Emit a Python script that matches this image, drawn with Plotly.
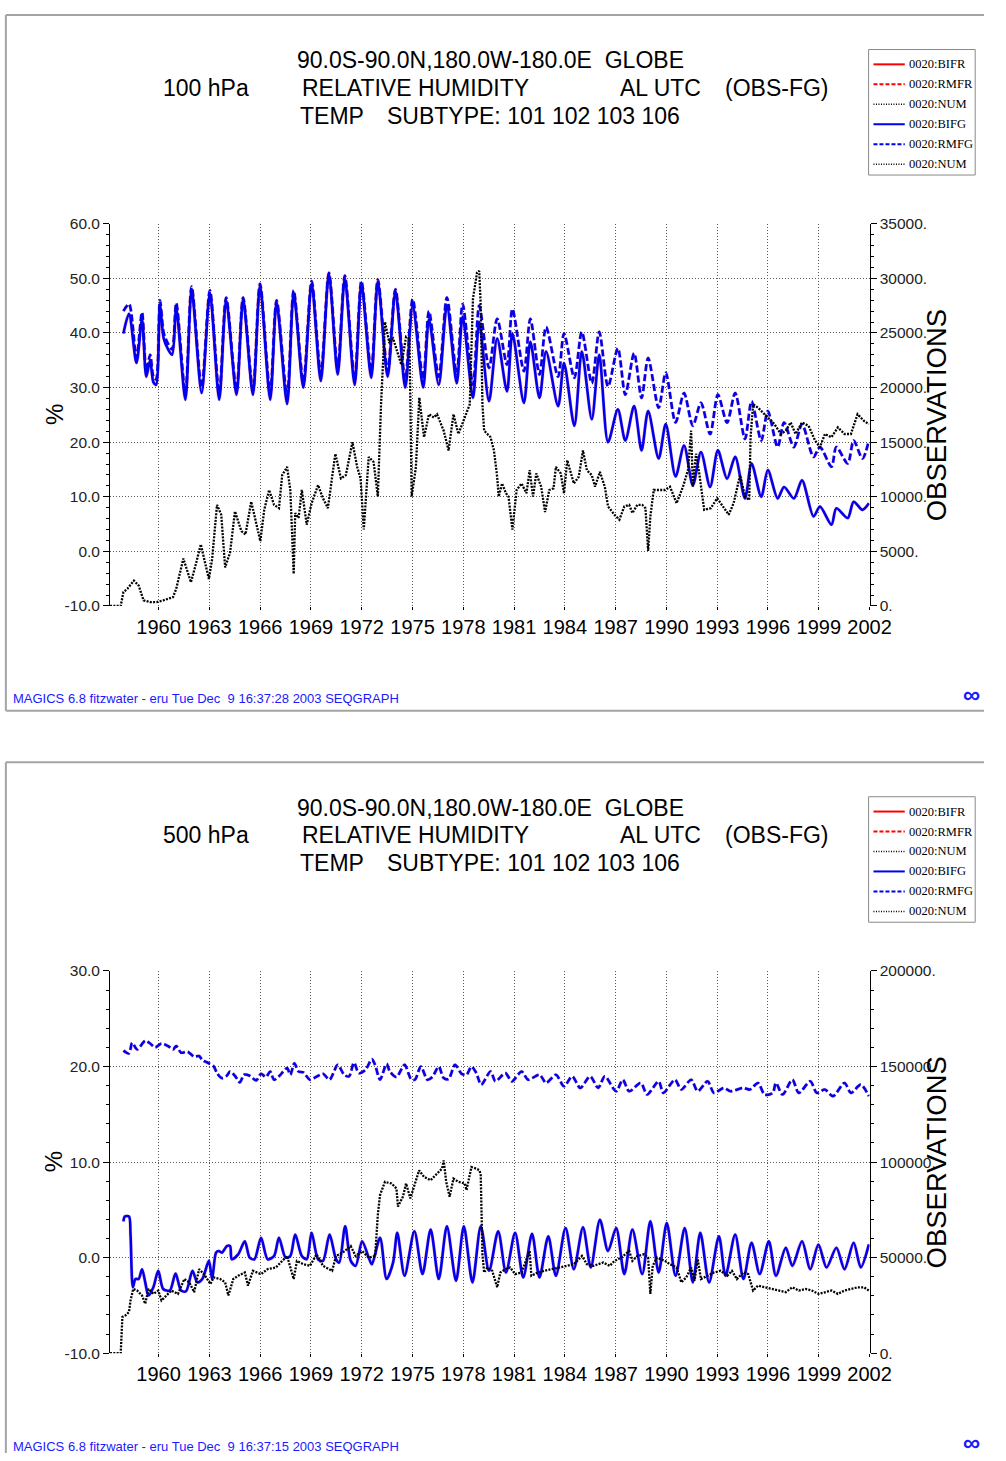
import plotly.graph_objects as go

# ---------------- DATA ----------------
X_TICKS = [1960, 1963, 1966, 1969, 1972, 1975, 1978, 1981, 1984, 1987, 1990, 1993, 1996, 1999, 2002]
X_TICK_LABELS = [str(v) for v in X_TICKS]

TOP_LEFT_TICKS = [-10, 0, 10, 20, 30, 40, 50, 60]
TOP_LEFT_LABELS = ["-10.0", "0.0", "10.0", "20.0", "30.0", "40.0", "50.0", "60.0"]
TOP_RIGHT_TICKS = [0, 5000, 10000, 15000, 20000, 25000, 30000, 35000]
TOP_RIGHT_LABELS = ["0.", "5000.", "10000.", "15000.", "20000.", "25000.", "30000.", "35000."]

BOT_LEFT_TICKS = [-10, 0, 10, 20, 30]
BOT_LEFT_LABELS = ["-10.0", "0.0", "10.0", "20.0", "30.0"]
BOT_RIGHT_TICKS = [0, 50000, 100000, 150000, 200000]
BOT_RIGHT_LABELS = ["0.", "50000.", "100000.", "150000.", "200000."]

# ---- 100 hPa panel ----
T_FG_YEAR = [1957.92, 1958.25, 1958.69, 1959.02, 1959.27, 1959.5, 1959.69, 1959.85, 1960.08, 1960.3, 1960.56, 1960.8,
             1961.04, 1961.58, 1961.95, 1962.54, 1963.03, 1963.58, 1963.99, 1964.6, 1964.99, 1965.57, 1965.99, 1966.59,
             1966.97, 1967.59, 1967.98, 1968.55, 1969.04, 1969.58, 1970.06, 1970.58, 1971.0, 1971.58, 1971.98, 1972.56,
             1972.95, 1973.53, 1973.99, 1974.57, 1975.01, 1975.63, 1975.97, 1976.55, 1977.03, 1977.61, 1977.96, 1978.57,
             1978.94, 1979.52, 1980.0, 1980.58, 1980.9, 1981.58, 1981.96, 1982.5, 1982.89, 1983.6, 1983.95, 1984.56,
             1985.0, 1985.59, 1986.03, 1986.55, 1987.13, 1987.57, 1988.09, 1988.53, 1988.92, 1989.54, 1989.96, 1990.54,
             1991.04, 1991.56, 1992.04, 1992.58, 1993.04, 1993.58, 1994.06, 1994.64, 1995.03, 1995.6, 1995.99, 1996.57,
             1996.95, 1997.53, 1998.01, 1998.69, 1999.07, 1999.75, 2000.04, 2000.71, 2001.06, 2001.58, 2001.96]
T_BIFG = [39.9, 43.5, 34.5, 42.5, 32, 35, 31, 30.5, 45, 39, 37, 36,
          44.5, 27.8, 48, 29, 47.3, 27.8, 46, 28.7, 46.2, 28.7,
          48.7, 27.8, 45.6, 27, 47.3, 30, 49, 31.2, 50.8, 32.4,
          50, 30.5, 49, 31.8, 49.4, 32, 47.7, 30, 45, 30,
          42.5, 30.5, 45, 30.8, 43, 28.1, 42, 27.5, 39, 29.3,
          39.9, 27.2, 38.4, 28.1, 36.6, 26.6, 34.5, 23, 36.6, 24.2,
          36, 20, 26, 20.3, 26.6, 18.5, 25.7, 17, 23.3, 13.7,
          19.4, 12.1, 18.2, 11.8, 18.5, 13.3, 17.3, 9.7, 16.1, 10,
          14.9, 9.7, 11.8, 9.7, 13, 6.4, 8.2, 4.9, 7.9, 6.1,
          9.1, 7.6, 8.8]
T_RMFG = [44, 45.3, 35.5, 43.8, 33, 36, 32, 31.5, 46, 40, 38, 37,
          45.5, 29, 48.5, 30, 47.8, 29, 46.5, 29.5, 46.5, 29.5,
          49, 29, 46, 28.5, 47.8, 31, 49.5, 32.5, 51, 33.5,
          50.5, 31.5, 49.5, 33, 49.8, 33, 48, 31.5, 46.2, 31.5,
          44, 32, 46.5, 32.5, 45.3, 30.5, 45, 33.6, 42.6, 34.2,
          44.4, 33, 42.6, 32.4, 41.1, 32, 39.9, 31.8, 40.2, 30.8,
          40.2, 30.2, 37.2, 28.7, 36.3, 28.1, 35.4, 26.3, 32.7, 23.6,
          29, 23, 27.2, 21.5, 28.7, 23.6, 29, 20.6, 27.5, 20.3,
          25.7, 19.1, 23.6, 19.1, 23.3, 17.3, 19.1, 15.5, 19.1, 16.1,
          20.3, 17, 20.3]
# FR curves coincide with the FG curves in the picture
T_BIFR = list(T_BIFG)
T_RMFR = list(T_RMFG)

T_NUM_YEAR = [1957.13, 1957.76, 1957.92, 1958.15, 1958.54, 1958.82, 1959.11, 1959.5, 1959.88, 1960.27, 1960.85, 1961.04,
              1961.46, 1961.91, 1962.2, 1962.49, 1962.97, 1963.16, 1963.45, 1963.7, 1963.93, 1964.22, 1964.51, 1964.89,
              1965.13, 1965.47, 1966.01, 1966.24, 1966.53, 1966.82, 1967.11, 1967.3, 1967.59, 1967.78, 1967.98, 1968.07,
              1968.27, 1968.46, 1968.75, 1969.04, 1969.42, 1969.71, 1970.0, 1970.19, 1970.44, 1970.77, 1971.06, 1971.45,
              1971.73, 1971.93, 1972.12, 1972.41, 1972.7, 1972.95, 1973.14, 1973.37, 1973.62, 1973.85, 1974.14, 1974.34,
              1974.62, 1974.82, 1974.95, 1975.2, 1975.4, 1975.68, 1975.97, 1976.26, 1976.45, 1976.84, 1977.13, 1977.42,
              1977.71, 1978.09, 1978.38, 1978.57, 1978.81, 1978.94, 1979.03, 1979.13, 1979.23, 1979.42, 1979.61, 1979.81,
              1980.0, 1980.09, 1980.29, 1980.52, 1980.67, 1980.9, 1981.15, 1981.44, 1981.73, 1981.92, 1982.12, 1982.31,
              1982.6, 1982.83, 1983.08, 1983.33, 1983.47, 1983.76, 1983.95, 1984.14, 1984.53, 1984.82, 1985.07, 1985.3,
              1985.59, 1985.78, 1986.07, 1986.36, 1986.55, 1986.93, 1987.22, 1987.51, 1987.8, 1987.99, 1988.28, 1988.57,
              1988.76, 1988.92, 1989.05, 1989.25, 1989.54, 1989.92, 1990.21, 1990.6, 1990.98, 1991.27, 1991.46, 1991.56,
              1991.75, 1991.94, 1992.23, 1992.62, 1993.0, 1993.29, 1993.68, 1993.97, 1994.35, 1994.64, 1994.89, 1994.97,
              1995.12, 1995.41, 1995.7, 1995.99, 1996.38, 1996.76, 1997.05, 1997.34, 1997.63, 1998.01, 1998.4, 1998.78,
              1999.07, 1999.36, 1999.75, 2000.13, 2000.52, 2000.9, 2001.29, 2001.67, 2001.96]
T_NUM = [0, 0, 1270, 1570, 2320, 1870, 510, 360, 360, 510, 810, 1570,
         4340, 2170, 3830, 5640, 2470, 4280, 9260, 8360, 3530, 4890, 8660, 6850,
         6550, 9560, 5940, 8810, 10620, 9260, 8960, 11980, 12730, 10620, 2930, 8510,
         8060, 10620, 7450, 9410, 11070, 9860, 8960, 10920, 13940, 11680, 11980, 15000,
         12730, 11680, 7000, 13640, 13190, 10020, 18460, 26000, 24200, 24500, 23140, 22090,
         24650, 24500, 10020, 12730, 19070, 15450, 17560, 17260, 17560, 16050, 14240, 17560,
         15750, 17260, 18460, 28120, 30530, 30680, 27500, 18460, 16050, 15750, 15450, 14240,
         11830, 10020, 11220, 10320, 10020, 7000, 10620, 11220, 10320, 12430, 10020, 12130,
         10920, 8600, 10620, 10770, 12730, 12130, 10320, 13340, 11220, 11830, 14240, 12430,
         11980, 10920, 12280, 10920, 9110, 8360, 7900, 9110, 9260, 8510, 9260, 9260,
         8960, 5040, 8210, 10620, 10620, 10620, 10920, 9410, 10920, 12430, 16050, 10920,
         13940, 12130, 8810, 8960, 9860, 9260, 8360, 9410, 11980, 10020, 9710, 15450,
         18460, 18160, 17710, 17260, 16650, 15750, 16050, 16800, 15750, 16800, 16500, 15150,
         14540, 15750, 15450, 16350, 15750, 15750, 17560, 16950, 16650]

# ---- 500 hPa panel ----
B_RMFG_YEAR = [1957.92, 1958.25, 1958.44, 1958.73, 1959.21, 1959.5, 1959.79, 1960.17, 1960.56, 1960.85, 1961.04, 1961.33,
               1961.71, 1962.1, 1962.39, 1962.58, 1962.97, 1963.26, 1963.45, 1963.74, 1964.03, 1964.22, 1964.51, 1964.8,
               1965.05, 1965.38, 1965.76, 1966.05, 1966.34, 1966.59, 1966.82, 1967.11, 1967.59, 1967.78, 1968.02, 1968.27,
               1968.55, 1968.94, 1969.29, 1969.71, 1970.1, 1970.58, 1970.96, 1971.25, 1971.54, 1971.83, 1972.22, 1972.6,
               1972.79, 1973.08, 1973.47, 1973.66, 1974.05, 1974.53, 1974.91, 1975.14, 1975.49, 1975.88, 1976.17, 1976.55,
               1976.84, 1977.13, 1977.51, 1977.9, 1978.19, 1978.48, 1978.77, 1979.06, 1979.61, 1979.9, 1980.48, 1980.87,
               1981.44, 1981.83, 1982.5, 1982.89, 1983.47, 1983.95, 1984.43, 1984.91, 1985.49, 1985.97, 1986.36, 1987.03,
               1987.42, 1987.8, 1988.48, 1988.86, 1989.54, 1989.82, 1990.5, 1990.88, 1991.46, 1991.85, 1992.43, 1992.81,
               1993.39, 1993.78, 1994.55, 1994.93, 1995.41, 1995.8, 1996.28, 1996.47, 1996.86, 1997.44, 1997.82, 1998.5,
               1998.88, 1999.36, 1999.84, 2000.52, 2000.9, 2001.48, 2001.96]
B_RMFG = [21.66, 21.38, 22.48, 21.79, 22.69, 22.41, 22.0, 22.41, 22.14, 21.79, 22.14, 21.45,
          21.55, 21.03, 21.1, 20.69, 20.34, 20.0, 19.31, 18.79, 19.03, 19.48, 19.03, 18.34,
          19.14, 19.03, 18.55, 19.24, 18.9, 19.48, 18.62, 18.97, 19.83, 19.14, 20.34, 19.48,
          19.38, 18.62, 18.9, 19.24, 18.62, 20.17, 19.14, 18.97, 20.41, 19.31, 19.66, 20.76,
          20.17, 18.62, 20.28, 19.48, 18.9, 20.17, 18.69, 18.62, 20.0, 18.62, 18.9, 20.0,
          18.79, 18.69, 20.17, 19.24, 19.14, 20.0, 19.31, 18.1, 19.48, 18.45, 19.31, 18.45,
          19.48, 18.62, 19.14, 18.28, 19.14, 17.93, 18.97, 17.76, 18.97, 17.76, 18.97, 17.41,
          18.62, 17.41, 18.28, 17.07, 18.45, 17.24, 18.62, 17.59, 18.62, 17.41, 18.45, 17.24,
          17.76, 17.41, 17.76, 17.59, 18.28, 17.07, 17.24, 18.28, 17.07, 18.62, 17.24, 18.45,
          17.24, 17.59, 16.9, 18.28, 17.24, 18.1, 16.9]

B_BIFG_YEAR = [1957.92, 1958.0, 1958.25, 1958.34, 1958.48, 1958.63, 1958.82, 1959.02, 1959.21, 1959.4, 1959.69, 1959.98,
               1960.27, 1960.66, 1961.0, 1961.33, 1961.62, 1962.0, 1962.29, 1962.58, 1962.97, 1963.16, 1963.39, 1963.55,
               1963.74, 1964.03, 1964.22, 1964.32, 1964.7, 1965.09, 1965.38, 1965.66, 1966.05, 1966.44, 1966.82, 1967.11,
               1967.5, 1967.78, 1968.07, 1968.46, 1968.75, 1969.04, 1969.42, 1969.71, 1970.1, 1970.48, 1970.67, 1971.02,
               1971.35, 1971.64, 1972.02, 1972.41, 1972.6, 1973.08, 1973.47, 1973.85, 1974.1, 1974.53, 1975.11, 1975.59,
               1976.07, 1976.55, 1977.03, 1977.57, 1978.03, 1978.54, 1979.03, 1979.52, 1980.06, 1980.52, 1981.06, 1981.54,
               1982.06, 1982.5, 1983.02, 1983.47, 1984.04, 1984.53, 1985.07, 1985.53, 1986.07, 1986.55, 1987.03, 1987.51,
               1987.99, 1988.57, 1989.05, 1989.54, 1990.02, 1990.54, 1991.08, 1991.56, 1992.0, 1992.52, 1993.1, 1993.49,
               1994.06, 1994.55, 1995.03, 1995.51, 1996.05, 1996.47, 1997.05, 1997.44, 1998.01, 1998.5, 1998.98, 1999.46,
               2000.04, 2000.52, 2001.06, 2001.48, 2001.96]
B_BIFG = [3.79, 4.31, 4.31, 2.41, -3.1, -2.24, -2.24, -1.21, -2.59, -3.97, -3.1, -1.38,
          -3.28, -3.45, -1.66, -3.45, -3.52, -1.38, -2.59, -2.24, -0.34, -2.24, 0.52, 0.69,
          0.52, 1.21, 1.21, -0.17, 0.34, 1.72, 0.0, -0.17, 2.07, -0.17, 0.17, 2.07,
          0.0, 0.17, 2.41, 0.17, -0.17, 2.59, -0.17, -0.34, 2.41, -0.17, -0.52, 3.28,
          -0.34, -0.86, 1.72, 0.0, -0.69, 2.07, -2.24, -0.52, 2.59, -1.9, 2.76, -1.72,
          2.93, -2.24, 3.28, -2.41, 3.28, -2.59, 3.28, -1.38, 2.76, -1.55, 2.59, -2.07,
          2.48, -2.07, 2.24, -1.9, 3.1, -1.21, 3.17, -1.03, 3.97, 0.69, 3.1, -1.72,
          2.93, -1.72, 3.79, -1.55, 3.62, -1.9, 3.1, -2.59, 2.59, -2.59, 2.24, -1.9,
          2.41, -2.24, 1.55, -1.72, 1.72, -1.9, 1.03, -0.86, 1.72, -1.21, 1.38, -1.03,
          1.03, -1.21, 1.55, -1.03, 1.38]
B_BIFR = list(B_BIFG)
B_RMFR = list(B_RMFG)

B_NUM_YEAR = [1957.13, 1957.76, 1957.86, 1958.05, 1958.25, 1958.34, 1958.5, 1958.73, 1959.02, 1959.21, 1959.4, 1959.69,
              1959.98, 1960.17, 1960.46, 1960.75, 1961.14, 1961.52, 1961.81, 1962.1, 1962.39, 1962.68, 1963.06, 1963.26,
              1963.64, 1963.93, 1964.12, 1964.41, 1964.7, 1965.09, 1965.28, 1965.57, 1966.05, 1966.44, 1966.92, 1967.3,
              1967.59, 1967.98, 1968.17, 1968.55, 1968.94, 1969.33, 1969.71, 1970.25, 1970.48, 1970.87, 1971.35, 1971.64,
              1972.02, 1972.41, 1972.79, 1972.95, 1973.08, 1973.37, 1973.76, 1974.05, 1974.14, 1974.43, 1974.62, 1974.87,
              1975.11, 1975.39, 1975.68, 1976.07, 1976.45, 1976.74, 1976.84, 1976.99, 1977.19, 1977.42, 1977.71, 1978.09,
              1978.19, 1978.48, 1978.77, 1978.96, 1979.03, 1979.13, 1979.23, 1979.42, 1979.71, 1980.0, 1980.19, 1980.48,
              1980.77, 1981.06, 1981.44, 1981.92, 1982.02, 1982.41, 1982.79, 1983.27, 1983.66, 1984.14, 1984.53, 1985.01,
              1985.3, 1985.68, 1986.26, 1986.65, 1986.93, 1987.32, 1987.8, 1987.99, 1988.28, 1988.67, 1988.92, 1989.05,
              1989.19, 1989.44, 1989.92, 1990.21, 1990.6, 1990.88, 1991.17, 1991.46, 1991.66, 1991.85, 1992.04, 1992.43,
              1992.81, 1993.2, 1993.59, 1993.87, 1994.16, 1994.55, 1994.83, 1995.12, 1995.41, 1995.8, 1996.18, 1996.57,
              1997.05, 1997.44, 1997.82, 1998.21, 1998.59, 1998.98, 1999.36, 1999.75, 2000.13, 2000.52, 2000.9, 2001.29,
              2001.67, 2001.96]
B_NUM = [0, 0, 18960, 19830, 21550, 27580, 33620, 32760, 30170, 25860, 33620, 31030,
         32760, 27580, 30170, 32760, 31030, 38790, 37070, 31890, 43960, 41380, 36200, 39650,
         38790, 37070, 30170, 38790, 40510, 42240, 35340, 43100, 41380, 43960, 44820, 48270,
         50860, 38790, 48270, 46550, 45690, 51720, 45690, 43100, 50860, 52580, 56030, 50860,
         53440, 50000, 50860, 72410, 82750, 89650, 88790, 86200, 76720, 81890, 88790, 81030,
         87920, 95680, 92230, 90510, 93960, 96540, 100850, 89650, 81890, 91370, 89650, 88790,
         85340, 97410, 96540, 95680, 93100, 51720, 42240, 44820, 43100, 34480, 42240, 43960,
         44820, 41380, 42240, 53440, 40510, 42240, 43100, 43960, 44820, 45690, 46550, 50860,
         46550, 45690, 47410, 45690, 48270, 50000, 53440, 48270, 50860, 51720, 50000, 31030,
         45690, 50000, 48270, 46550, 44820, 37070, 39650, 44820, 37930, 49140, 38790, 40510,
         42240, 43100, 40510, 43100, 38790, 42240, 41380, 32760, 35340, 34480, 33620, 32760,
         31890, 34480, 32760, 33620, 32760, 31030, 31890, 32760, 31030, 32760, 33620, 34480,
         34480, 32760]

LEGEND_LABELS = ["0020:BIFR", "0020:RMFR", "0020:NUM", "0020:BIFG", "0020:RMFG", "0020:NUM"]

for a, b in [(T_FG_YEAR, T_BIFG), (T_FG_YEAR, T_RMFG), (T_NUM_YEAR, T_NUM), (B_RMFG_YEAR, B_RMFG),
             (B_BIFG_YEAR, B_BIFG), (B_NUM_YEAR, B_NUM)]:
    assert len(a) == len(b), (len(a), len(b))

# ---------------- FIGURE ----------------
W, H = 1006, 1461
def px(x):
    return x / W
def py(y):
    return 1 - y / H

BLUE = "#0000ee"
RED = "#ff0000"
GRID = "#5a5a5a"
FONT = "Liberation Sans"

fig = go.Figure()

def add_panel(xa, ya, ya2, fr_x, bifr, rmfr, bifg_x, bifg, rmfg_x, rmfg, num_x, num):
    fig.add_trace(go.Scatter(x=fr_x[0], y=bifr, xaxis=xa, yaxis=ya, mode="lines",
                             line=dict(color=RED, width=3.6, shape="spline", smoothing=0.8), opacity=0.2))
    fig.add_trace(go.Scatter(x=fr_x[1], y=rmfr, xaxis=xa, yaxis=ya, mode="lines",
                             line=dict(color=RED, width=3.6, shape="spline", smoothing=0.8, dash="7px,3px"), opacity=0.2))
    fig.add_trace(go.Scatter(x=bifg_x, y=bifg, xaxis=xa, yaxis=ya, mode="lines",
                             line=dict(color=BLUE, width=2.6, shape="spline", smoothing=0.8)))
    fig.add_trace(go.Scatter(x=rmfg_x, y=rmfg, xaxis=xa, yaxis=ya, mode="lines",
                             line=dict(color=BLUE, width=2.6, shape="spline", smoothing=0.8, dash="7px,3px")))
    fig.add_trace(go.Scatter(x=num_x, y=num, xaxis=xa, yaxis=ya2, mode="lines",
                             line=dict(color="black", width=2.3, dash="2px,1.3px")))

add_panel("x", "y", "y2", (T_FG_YEAR, T_FG_YEAR), T_BIFR, T_RMFR, T_FG_YEAR, T_BIFG, T_FG_YEAR, T_RMFG, T_NUM_YEAR, T_NUM)
add_panel("x2", "y3", "y4", (B_BIFG_YEAR, B_RMFG_YEAR), B_BIFR, B_RMFR, B_BIFG_YEAR, B_BIFG, B_RMFG_YEAR, B_RMFG, B_NUM_YEAR, B_NUM)

def xaxis_cfg(anchor):
    return dict(domain=[px(112.5), px(889)], range=[1957.13, 2002], anchor=anchor,
                tickmode="array", tickvals=X_TICKS, ticktext=X_TICK_LABELS,
                tickfont=dict(size=20, color="black", family=FONT), ticks="outside", ticklen=3,
                tickcolor="black", showline=False, showgrid=True, gridcolor=GRID, griddash="1px,2px",
                gridwidth=1, zeroline=False)

def yleft_cfg(dom, rng, tv, tt, minor):
    return dict(domain=dom, range=rng, anchor=None, tickmode="array", tickvals=tv, ticktext=tt,
                tickfont=dict(size=15.5, color="#222", family=FONT), ticks="outside", ticklen=6,
                tickcolor="black", showline=True, linecolor="black", linewidth=1,
                showgrid=True, gridcolor=GRID, griddash="1px,2px", gridwidth=1, zeroline=False,
                minor=dict(dtick=minor, tick0=0, ticks="outside", ticklen=3, tickcolor="black", showgrid=False))

def yright_cfg(over, anchor, rng, tv, tt, minor):
    return dict(overlaying=over, side="right", anchor=anchor, range=rng, tickmode="array", tickvals=tv, ticktext=tt,
                tickfont=dict(size=15.5, color="#222", family=FONT), ticks="outside", ticklen=6,
                tickcolor="black", showline=True, linecolor="black", linewidth=1, showgrid=False, zeroline=False,
                minor=dict(dtick=minor, tick0=0, ticks="outside", ticklen=3, tickcolor="black", showgrid=False))

ya = yleft_cfg([py(604), py(217.3)], [-10, 60], TOP_LEFT_TICKS, TOP_LEFT_LABELS, 2)
ya["anchor"] = "x"
ya3 = yleft_cfg([py(1360), py(973.3)], [-10, 30], BOT_LEFT_TICKS, BOT_LEFT_LABELS, 2)
ya3["anchor"] = "x2"

shapes = []
annotations = []

def T(text, x, y, size, color="black", xanchor="left", angle=0, family=FONT, bold=False):
    annotations.append(dict(text=("<b>%s</b>" % text) if bold else text, x=px(x), y=py(y), xref="paper", yref="paper",
                            xanchor=xanchor, yanchor="middle", showarrow=False, textangle=angle,
                            font=dict(size=size, color=color, family=family)))

def L(x0, y0, x1, y1, color, width, dash=None):
    ln = dict(color=color, width=width)
    if dash:
        ln["dash"] = dash
    shapes.append(dict(type="line", xref="paper", yref="paper", x0=px(x0), x1=px(x1), y0=py(y0), y1=py(y1), line=ln))

def panel_decor(dy, level, stamp, bottom_edge):
    # frame (kept inside the page; the right side runs off the picture)
    FR = "#a4a4a4"
    L(6, dy + 6, 1006, dy + 6, FR, 2)
    L(6, dy + 6, 6, min(dy + 710, 1461), FR, 2)
    if bottom_edge:
        L(6, dy + 710, 1006, dy + 710, FR, 2)
    # titles
    T("90.0S-90.0N,180.0W-180.0E\u00a0\u00a0GLOBE", 302, dy + 52, 23)
    T(level, 165, dy + 80, 23)
    T("RELATIVE HUMIDITY", 307, dy + 80, 23)
    T("AL UTC", 632, dy + 80, 23)
    T("(OBS-FG)", 739, dy + 80, 23)
    T("TEMP", 305, dy + 108, 23)
    T("SUBTYPE: 101 102 103 106", 394, dy + 108, 23)
    # axis titles
    T("%", 55, dy + 410, 24, xanchor="center", angle=-90)
    T("OBSERVATIONS", 957, dy + 411, 27.5, xanchor="center", angle=-90)
    # footer
    T("MAGICS 6.8 fitzwater - eru Tue Dec\u00a0\u00a09 " + stamp + " 2003 SEQGRAPH", 11, dy + 698, 13, color="#1a1aff")
    T("\u221e", 993, dy + 694, 24, color="#1a1aff", xanchor="center", bold=True)
    # legend
    shapes.append(dict(type="rect", xref="paper", yref="paper", x0=px(888), x1=px(997), y0=py(dy + 41), y1=py(dy + 168),
                       line=dict(color="#8a8a8a", width=1)))
    styles = [(RED, None, 2), (RED, "4px,2px", 2), ("black", "1px,1.5px", 1.5),
              (BLUE, None, 2), (BLUE, "4px,2px", 2), ("black", "1px,1.5px", 1.5)]
    for i, (lab, (col, dash, wd)) in enumerate(zip(LEGEND_LABELS, styles)):
        yy = dy + 56 + i * 20.2
        L(893, yy, 925, yy, col, wd, dash)
        T(lab, 927, yy, 12.5, family="Liberation Serif")

panel_decor(0, "100 hPa", "16:37:28", True)
panel_decor(756, "500 hPa", "16:37:15", False)

fig.update_layout(
    width=W, height=H, margin=dict(l=0, r=0, t=0, b=0),
    paper_bgcolor="white", plot_bgcolor="rgba(0,0,0,0)", showlegend=False,
    font=dict(family=FONT, color="black"),
    xaxis=xaxis_cfg("y"), xaxis2=xaxis_cfg("y3"),
    yaxis=ya,
    yaxis2=yright_cfg("y", "x", [0, 35000], TOP_RIGHT_TICKS, TOP_RIGHT_LABELS, 1000),
    yaxis3=ya3,
    yaxis4=yright_cfg("y3", "x2", [0, 200000], BOT_RIGHT_TICKS, BOT_RIGHT_LABELS, 10000),
    shapes=shapes, annotations=annotations,
)

fig.write_html("out.html", config={"displayModeBar": False},
               post_script="document.documentElement.style.margin='0';document.body.style.margin='0';"
                           "document.body.style.padding='0';"
                           "document.documentElement.style.overflow='hidden';document.body.style.overflow='hidden';")
